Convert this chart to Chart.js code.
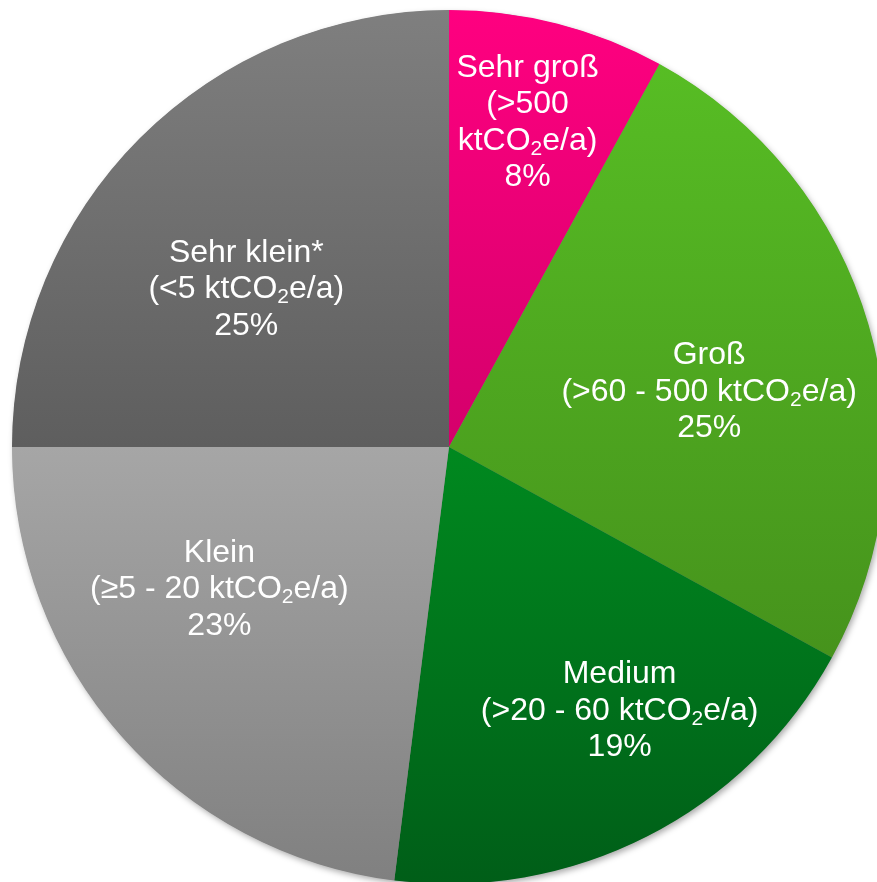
<!DOCTYPE html>
<html>
<head>
<meta charset="utf-8">
<script src="https://cdn.jsdelivr.net/npm/chart.js@4/dist/chart.umd.min.js"></script>
<style>
    html, body { margin: 0; padding: 0; background: #ffffff; overflow: hidden; }
    #wrap { position: absolute; left: 0; top: 0; width: 898px; height: 894px; }
</style>
</head>
<body>
<div id="wrap"><canvas id="pie" width="898" height="894"></canvas></div>
<script>
// ============================================
// DATA
// ============================================

const categories = ['Sehr groß', 'Groß', 'Medium', 'Klein', 'Sehr klein*'];
const ranges = [
    '(>500\nktCO₂e/a)',
    '(>60 - 500 ktCO₂e/a)',
    '(>20 - 60 ktCO₂e/a)',
    '(≥5 - 20 ktCO₂e/a)',
    '(<5 ktCO₂e/a)'
];
const shares = [8, 25, 19, 23, 25];

// colours: top / bottom of each slice's gradient
const sliceTop = ['#FF0080', '#57BD24', '#00891F', '#A6A6A6', '#7F7F7F'];
const sliceBottom = ['#D4006B', '#46931C', '#005E18', '#808080', '#5E5E5E'];

// label placement relative to slice middle (radius fraction, angle shift in deg)
const labelRadius = [0.77, 0.61, 0.713, 0.615, 0.592];
const labelShift = [-0.9, 3.6, -6.2, 10.1, -6.6];

const FONT_FAMILY = '"Liberation Sans", Arial, sans-serif';
const FONT_SIZE = 32;
const SUB_SIZE = 21;
const LINE_GAP = 36.5;
const TEXT_NUDGE = 3;   // canvas 'middle' sits a bit above the visual centre

// ============================================
// HELPERS
// ============================================

function sliceFill(context) {
    const chart = context.chart;
    const area = chart.chartArea;
    const i = context.dataIndex;
    if (!area) return sliceTop[i];

    const cx = (area.left + area.right) / 2;
    const cy = (area.top + area.bottom) / 2;
    const r = Math.min(area.right - area.left, area.bottom - area.top) / 2;
    const total = shares.reduce((s, v) => s + v, 0);
    let before = 0;
    for (let j = 0; j < i; j++) before += shares[j];
    const a0 = before / total * Math.PI * 2;
    const a1 = (before + shares[i]) / total * Math.PI * 2;

    const ys = [cy, cy - r * Math.cos(a0), cy - r * Math.cos(a1)];
    if (a0 === 0) ys.push(cy - r);
    if (a0 < Math.PI && a1 > Math.PI) ys.push(cy + r);
    const top = Math.min(...ys);
    const bottom = Math.max(...ys);

    const g = chart.ctx.createLinearGradient(0, top, 0, bottom);
    g.addColorStop(0, sliceTop[i]);
    g.addColorStop(1, sliceBottom[i]);
    return g;
}

// draw one line, "₂" rendered as a real subscript 2
function drawRichLine(ctx, text, x, y) {
    const parts = text.split('₂');
    const pieces = [];
    parts.forEach((p, k) => {
        if (p) pieces.push({ t: p, sub: false });
        if (k < parts.length - 1) pieces.push({ t: '2', sub: true });
    });

    let width = 0;
    pieces.forEach(pc => {
        ctx.font = `${pc.sub ? SUB_SIZE : FONT_SIZE}px ${FONT_FAMILY}`;
        pc.w = ctx.measureText(pc.t).width;
        width += pc.w;
    });

    let cur = x - width / 2;
    pieces.forEach(pc => {
        ctx.font = `${pc.sub ? SUB_SIZE : FONT_SIZE}px ${FONT_FAMILY}`;
        ctx.fillText(pc.t, cur, pc.sub ? y + 8 : y);
        cur += pc.w;
    });
}

// ============================================
// PLUGINS
// ============================================

const pieShadow = {
    id: 'pieShadow',
    beforeDatasetsDraw(chart) {
        const arc = chart.getDatasetMeta(0).data[0];
        if (!arc) return;
        const ctx = chart.ctx;
        ctx.save();
        ctx.shadowColor = 'rgba(0, 0, 0, 0.35)';
        ctx.shadowBlur = 6;
        ctx.shadowOffsetX = 2;
        ctx.shadowOffsetY = 3;
        ctx.fillStyle = '#7f7f7f';
        ctx.beginPath();
        ctx.arc(arc.x, arc.y, arc.outerRadius - 0.5, 0, Math.PI * 2);
        ctx.fill();
        ctx.restore();
    }
};

const sliceLabels = {
    id: 'sliceLabels',
    afterDatasetsDraw(chart) {
        const ctx = chart.ctx;
        const meta = chart.getDatasetMeta(0);
        ctx.save();
        ctx.fillStyle = '#ffffff';
        ctx.textBaseline = 'middle';
        ctx.textAlign = 'left';

        meta.data.forEach((arc, i) => {
            const mid = (arc.startAngle + arc.endAngle) / 2 + labelShift[i] * Math.PI / 180;
            const rr = arc.outerRadius * labelRadius[i];
            const x = arc.x + Math.cos(mid) * rr;
            const y = arc.y + Math.sin(mid) * rr + TEXT_NUDGE;

            const lines = [categories[i]]
                .concat(ranges[i].split('\n'))
                .concat([shares[i] + '%']);
            const startY = y - (lines.length - 1) * LINE_GAP / 2;
            lines.forEach((line, k) => {
                drawRichLine(ctx, line, x, startY + k * LINE_GAP);
            });
        });
        ctx.restore();
    }
};

// ============================================
// CHART
// ============================================

const pieChart = new Chart(document.getElementById('pie'), {
    type: 'pie',
    data: {
        labels: categories,
        datasets: [{
            data: shares,
            backgroundColor: sliceFill,
            borderWidth: 0,
            hoverOffset: 0
        }]
    },
    options: {
        responsive: false,
        animation: false,
        devicePixelRatio: 1,
        layout: { padding: 10 },
        plugins: {
            legend: { display: false },
            tooltip: { enabled: false }
        }
    },
    plugins: [pieShadow, sliceLabels]
});
</script>
</body>
</html>
